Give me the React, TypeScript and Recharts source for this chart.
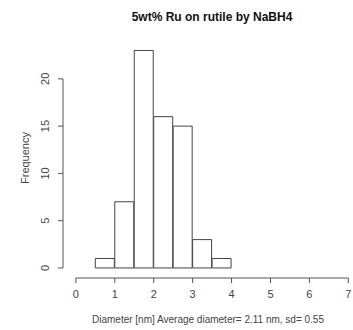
import { ComposedChart, Bar, XAxis, YAxis, ReferenceLine } from "recharts";

// histogram bins (left edges) and counts
const binStarts = [0.5, 1, 1.5, 2, 2.5, 3, 3.5];
const binWidth = 0.5;
const counts = [1, 7, 23, 16, 15, 3, 1];
const xTicks = [0, 1, 2, 3, 4, 5, 6, 7];
const yTicks = [0, 5, 10, 15, 20];

const title = "5wt% Ru on rutile by NaBH4";
const xLabel = "Diameter [nm] Average diameter= 2.11 nm, sd= 0.55";
const yLabel = "Frequency";

const data = binStarts.map((b, i) => ({ mid: b + binWidth / 2, count: counts[i] }));

const X_DOMAIN: [number, number] = [-0.33, 7.12];
const Y_DOMAIN: [number, number] = [-1.06, 24];
const FONT = "'Liberation Sans', Arial, sans-serif";
const INK = "#555";

function YTick(props: any) {
  const { x, y, payload } = props;
  return (
    <text
      x={x - 3}
      y={y}
      transform={`rotate(-90 ${x - 3} ${y})`}
      textAnchor="middle"
      fontSize={11}
      fontFamily={FONT}
      fill="#444"
    >
      {payload.value}
    </text>
  );
}

function XTick(props: any) {
  const { x, y, payload } = props;
  return (
    <text x={x} y={y + 11} textAnchor="middle" fontSize={11} fontFamily={FONT} fill="#444">
      {payload.value}
    </text>
  );
}

export default function App() {
  return (
    <div style={{ position: "absolute", left: 0, top: 0, width: 353, height: 330, background: "#fff" }}>
      <div
        style={{
          position: "absolute",
          left: 0,
          width: 424,
          top: 10,
          textAlign: "center",
          fontFamily: FONT,
          fontWeight: "bold",
          fontSize: 12,
          color: "#111",
        }}
      >
        {title}
      </div>
      <ComposedChart
        width={353}
        height={330}
        data={data}
        margin={{ top: 41, right: 0, bottom: 22, left: 33 }}
        barCategoryGap={0}
        barGap={0}
      >
        <XAxis
          dataKey="mid"
          type="number"
          domain={X_DOMAIN}
          ticks={xTicks}
          allowDataOverflow
          axisLine={false}
          tickLine={{ stroke: INK }}
          tickSize={5}
          tickMargin={4}
          height={30}
          tick={<XTick />}
          label={{
            content: () => (
              <text x={208} y={323} textAnchor="middle" fontSize={10} fontFamily={FONT} fill="#444">
                {xLabel}
              </text>
            ),
          }}
        />
        <YAxis
          type="number"
          domain={Y_DOMAIN}
          ticks={yTicks}
          allowDataOverflow
          axisLine={false}
          tickLine={{ stroke: INK }}
          tickSize={5}
          tickMargin={6}
          width={30}
          tick={<YTick />}
          label={{
            content: () => (
              <text
                x={29}
                y={158}
                transform="rotate(-90 29 158)"
                textAnchor="middle"
                fontSize={11}
                fontFamily={FONT}
                fill="#444"
              >
                {yLabel}
              </text>
            ),
          }}
        />
        <ReferenceLine
          segment={[
            { x: xTicks[0], y: Y_DOMAIN[0] },
            { x: xTicks[xTicks.length - 1], y: Y_DOMAIN[0] },
          ]}
          stroke={INK}
          ifOverflow="visible"
        />
        <ReferenceLine
          segment={[
            { x: X_DOMAIN[0], y: yTicks[0] },
            { x: X_DOMAIN[0], y: yTicks[yTicks.length - 1] },
          ]}
          stroke={INK}
          ifOverflow="visible"
        />
        <Bar dataKey="count" fill="#fff" stroke="#444" strokeWidth={1} isAnimationActive={false} />
      </ComposedChart>
    </div>
  );
}
